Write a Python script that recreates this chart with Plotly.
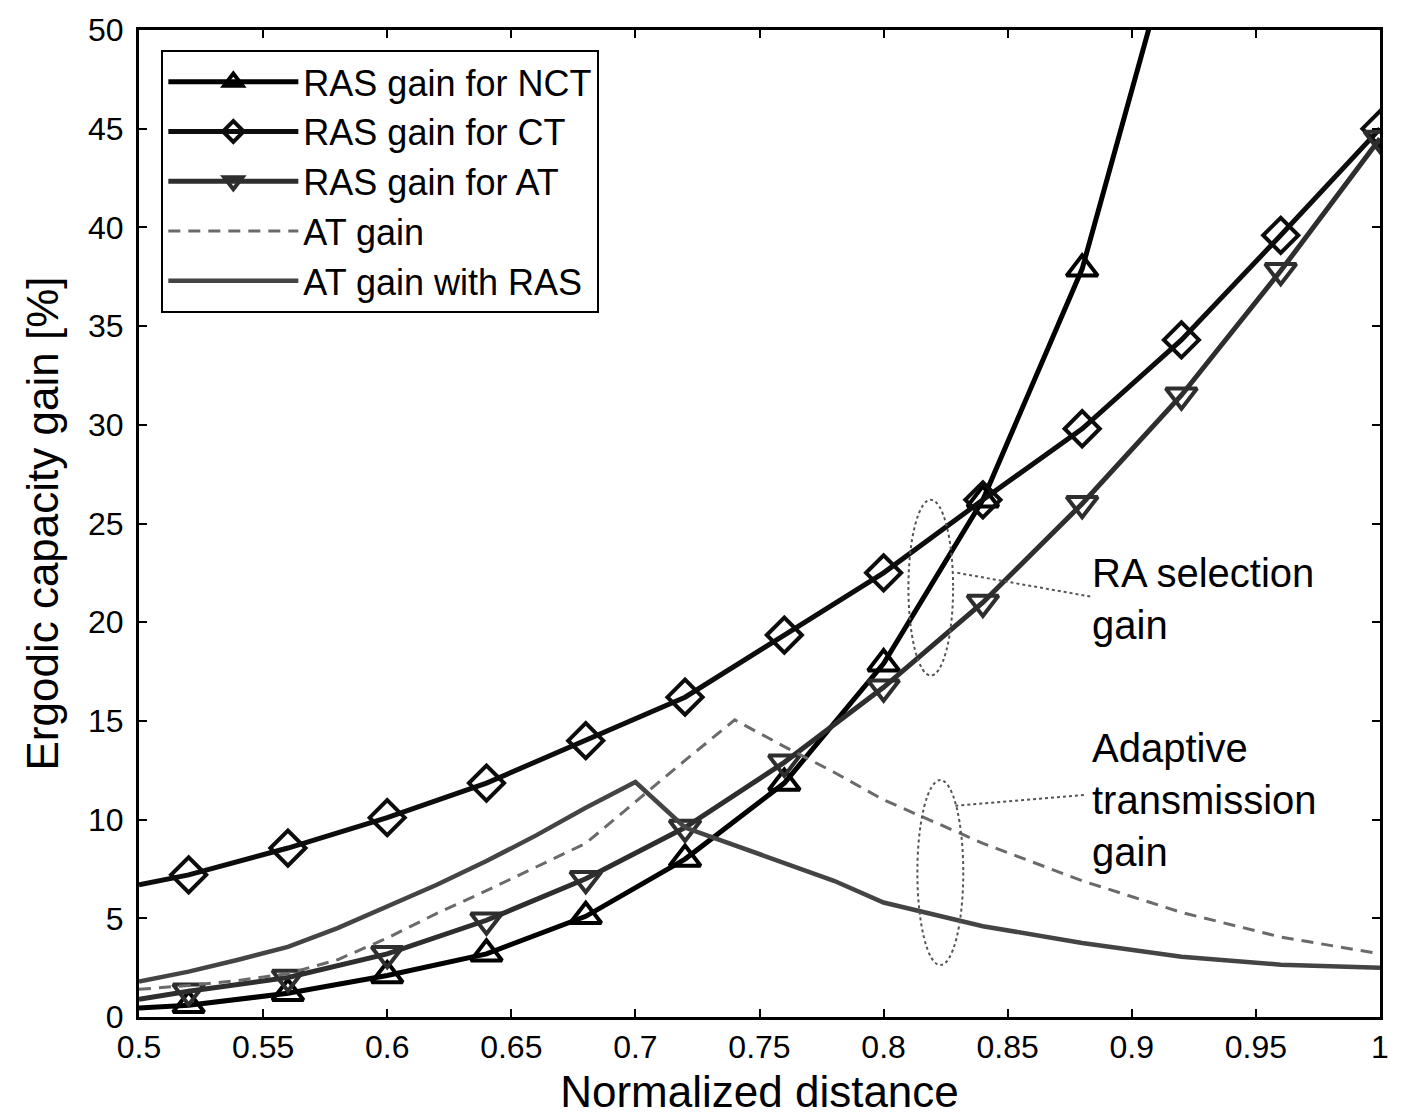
import plotly.graph_objects as go

# ---- data ----
x_ras = [0.50, 0.52, 0.56, 0.60, 0.64, 0.68, 0.72, 0.76, 0.80, 0.84, 0.88, 0.92, 0.96, 1.00]
ras_nct = [0.45, 0.6, 1.2, 2.1, 3.2, 5.1, 8.0, 11.85, 17.9, 26.2, 37.9, 56.0, 82.0, 115.0]
ras_ct = [6.7, 7.2, 8.56, 10.1, 11.85, 14.0, 16.2, 19.35, 22.5, 26.2, 29.8, 34.3, 39.6, 45.0]
ras_at = [0.9, 1.3, 2.0, 3.2, 4.9, 7.0, 9.6, 12.9, 16.7, 21.0, 26.0, 31.5, 37.8, 44.5]

x_at = [0.50, 0.52, 0.54, 0.56, 0.58, 0.60, 0.62, 0.64, 0.66, 0.68, 0.70, 0.72, 0.74,
        0.76, 0.78, 0.80, 0.84, 0.88, 0.92, 0.96, 1.00]
at_gain = [1.4, 1.6, 1.85, 2.2, 2.9, 4.0, 5.25, 6.4, 7.6, 8.8, 10.9, 13.0, 15.05,
           13.7, 12.4, 11.0, 8.8, 6.9, 5.3, 4.05, 3.2]
at_gain_ras = [1.8, 2.3, 2.9, 3.55, 4.5, 5.6, 6.7, 7.9, 9.2, 10.6, 11.9, 9.6, 8.7,
               7.8, 6.9, 5.8, 4.6, 3.75, 3.05, 2.65, 2.5]

x_ticks = [0.5, 0.55, 0.6, 0.65, 0.7, 0.75, 0.8, 0.85, 0.9, 0.95, 1.0]
x_tick_text = ["0.5", "0.55", "0.6", "0.65", "0.7", "0.75", "0.8", "0.85", "0.9", "0.95", "1"]
y_ticks = [0, 5, 10, 15, 20, 25, 30, 35, 40, 45, 50]

FONT = "Liberation Sans, Arial, sans-serif"

# markers are shown from x=0.52 onwards (the point at 0.5 only starts the line)
shown = [i for i, v in enumerate(x_ras) if v > 0.5 + 1e-9]

fig = go.Figure()

def ras_trace(y, name, color, symbol):
    return go.Scatter(
        x=x_ras, y=y, name=name, mode="lines+markers",
        line=dict(color=color, width=5),
        marker=dict(symbol=symbol, size=27, color=color,
                    line=dict(color=color, width=4)),
        selectedpoints=shown,
        selected=dict(marker=dict(opacity=1)),
        unselected=dict(marker=dict(opacity=0)),
    )

fig.add_trace(ras_trace(ras_nct, "RAS gain for NCT", "#000000", "triangle-up-open"))
fig.add_trace(ras_trace(ras_ct, "RAS gain for CT", "#0d0d0d", "diamond-open"))
fig.add_trace(ras_trace(ras_at, "RAS gain for AT", "#2e2e2e", "triangle-down-open"))
fig.add_trace(go.Scatter(
    x=x_at, y=at_gain, name="AT gain", mode="lines",
    line=dict(color="#6a6a6a", width=3, dash="12px,8px"),
))
fig.add_trace(go.Scatter(
    x=x_at, y=at_gain_ras, name="AT gain with RAS", mode="lines",
    line=dict(color="#444444", width=4.5),
))

# annotation ellipses and leader lines
ell = dict(color="#555555", width=2, dash="dot")
fig.add_shape(type="circle", xref="x", yref="y", x0=0.810, x1=0.828, y0=17.3, y1=26.2, line=ell)
fig.add_shape(type="circle", xref="x", yref="y", x0=0.8136, x1=0.8321, y0=2.63, y1=12.0, line=ell)
fig.add_shape(type="line", xref="x", yref="y", x0=0.8297, y0=22.5, x1=0.8833, y1=21.3, line=ell)
fig.add_shape(type="line", xref="x", yref="y", x0=0.8289, y0=10.7, x1=0.8812, y1=11.25, line=ell)

fig.add_annotation(x=0.883, y=21.2, xref="x", yref="y", text="RA selection<br>gain",
                   showarrow=False, xanchor="left", yanchor="middle", align="left",
                   font=dict(family=FONT, size=40, color="#000000"))
fig.add_annotation(x=0.883, y=11.0, xref="x", yref="y", text="Adaptive<br>transmission<br>gain",
                   showarrow=False, xanchor="left", yanchor="middle", align="left",
                   font=dict(family=FONT, size=40, color="#000000"))

axis_common = dict(
    showline=True, linecolor="#000000", linewidth=3, mirror="ticks",
    ticks="inside", ticklen=8, tickwidth=1.5, tickcolor="#000000",
    showgrid=False, zeroline=False, automargin=False,
    tickfont=dict(family=FONT, size=32, color="#000000"),
)

# the page body adds an 8px offset, so the figure is 8px smaller than the window
fig.update_layout(
    width=1404, height=1109,
    margin=dict(l=131, r=32, t=22, b=100),
    paper_bgcolor="#ffffff", plot_bgcolor="#ffffff",
    font=dict(family=FONT, color="#000000"),
    xaxis=dict(range=[0.5, 1.0], tickvals=x_ticks, ticktext=x_tick_text,
               ticklabelstandoff=0,
               title=dict(text="Normalized distance", font=dict(family=FONT, size=44), standoff=12),
               **axis_common),
    yaxis=dict(range=[0, 50], tickvals=y_ticks, ticklabelstandoff=6,
               title=dict(text="Ergodic capacity gain [%]", font=dict(family=FONT, size=44), standoff=16),
               **axis_common),
    legend=dict(x=0.018, y=0.98, xanchor="left", yanchor="top",
                bgcolor="#ffffff", bordercolor="#000000", borderwidth=2,
                font=dict(family=FONT, size=36, color="#000000"),
                tracegroupgap=0, itemwidth=130),
    showlegend=True,
)

fig.write_html("out.html")
